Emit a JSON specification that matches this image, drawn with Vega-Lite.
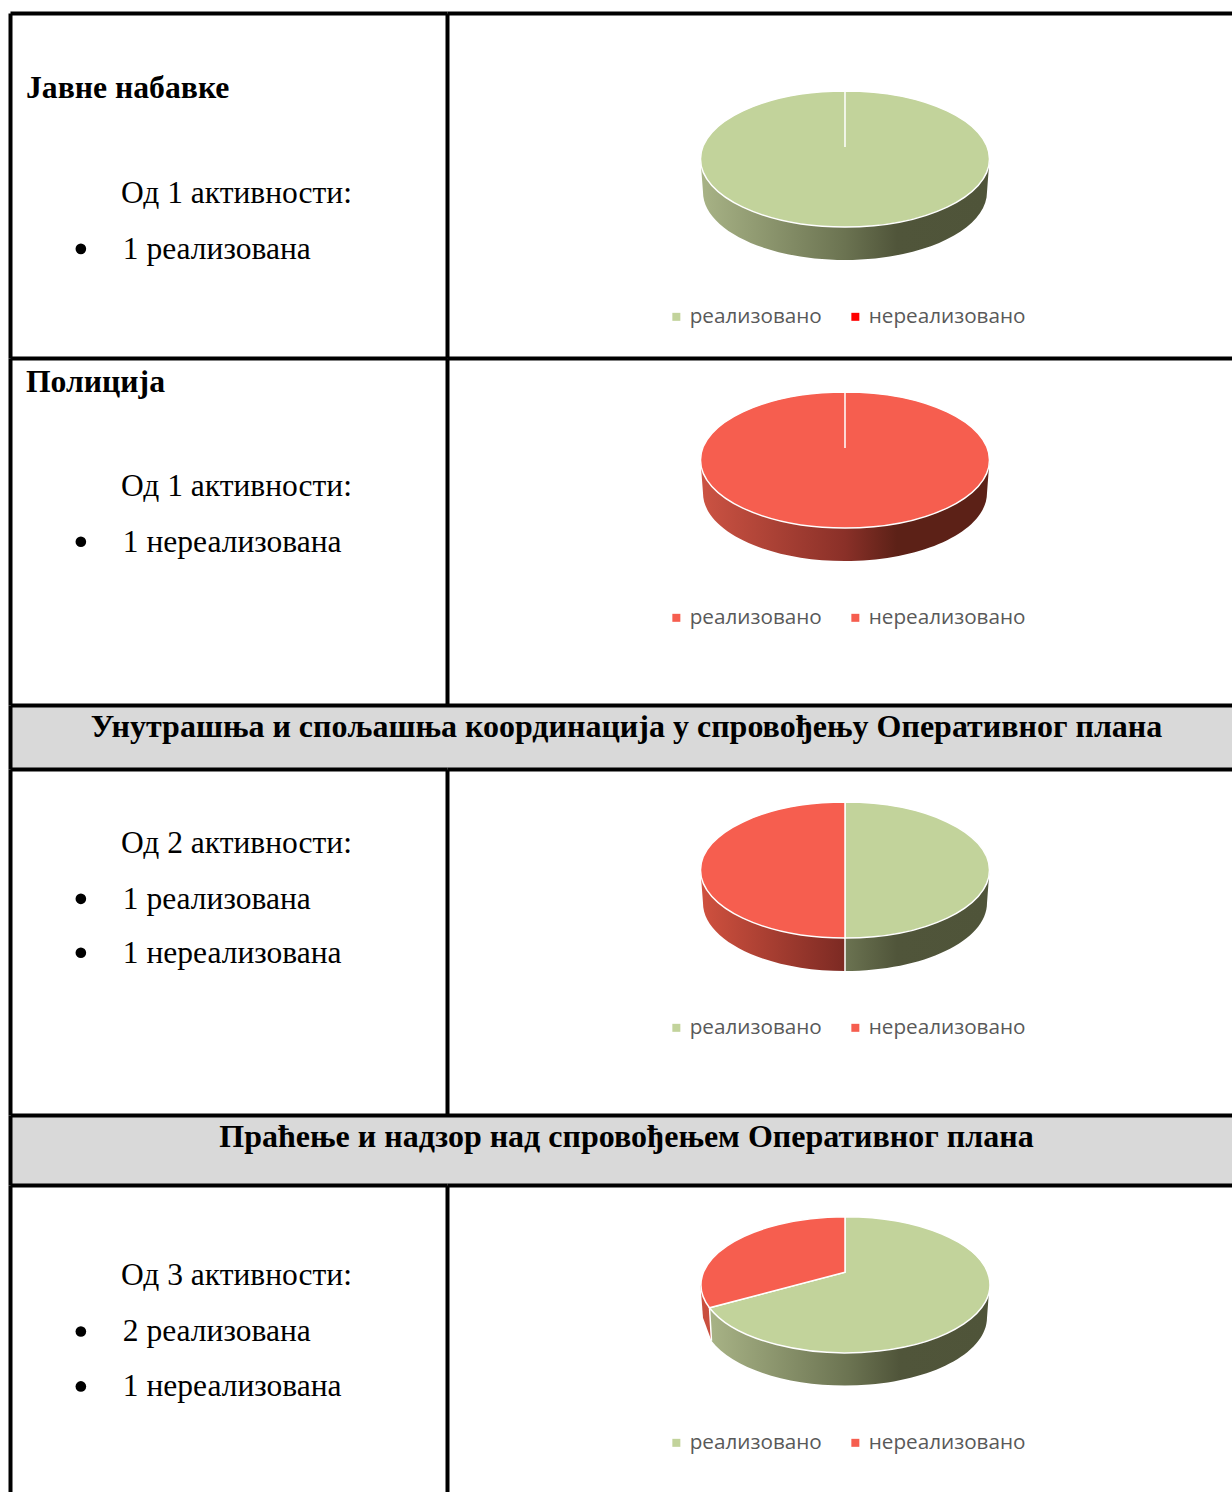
{"$schema":"https://vega.github.io/schema/vega-lite/v6.json","padding":{"left":10,"top":13,"right":0,"bottom":0},"background":"white","spacing":-2,"resolve":{"scale":{"color":"independent"},"legend":{"color":"independent"}},"config":{"view":{"stroke":null},"axis":{"domain":true,"domainColor":"black","domainWidth":4,"ticks":false,"labels":false,"grid":false,"title":null},"legend":{"title":null,"orient":"none","direction":"horizontal","symbolType":"square","symbolSize":64,"symbolStrokeWidth":0,"labelFont":"Open Sans","labelFontSize":20.7,"labelColor":"#595959","labelOffset":3,"columnPadding":23,"padding":0}},"datasets":{"lines":[{"panel":"p1","weight":"bold","bullet":false,"level":0,"line":1.53,"text":"Јавне набавке"},{"panel":"p1","weight":"normal","bullet":false,"level":1,"line":3.43,"text":"Од 1 активности:"},{"panel":"p1","weight":"normal","bullet":true,"level":1.02,"line":4.43,"text":"1 реализована"},{"panel":"p2","weight":"bold","bullet":false,"level":0,"line":0.61,"text":"Полиција"},{"panel":"p2","weight":"normal","bullet":false,"level":1,"line":2.49,"text":"Од 1 активности:"},{"panel":"p2","weight":"normal","bullet":true,"level":1.02,"line":3.49,"text":"1 нереализована"},{"panel":"p3","weight":"normal","bullet":false,"level":1,"line":1.52,"text":"Од 2 активности:"},{"panel":"p3","weight":"normal","bullet":true,"level":1.02,"line":2.52,"text":"1 реализована"},{"panel":"p3","weight":"normal","bullet":true,"level":1.02,"line":3.49,"text":"1 нереализована"},{"panel":"p4","weight":"normal","bullet":false,"level":1,"line":1.81,"text":"Од 3 активности:"},{"panel":"p4","weight":"normal","bullet":true,"level":1.02,"line":2.82,"text":"2 реализована"},{"panel":"p4","weight":"normal","bullet":true,"level":1.02,"line":3.81,"text":"1 нереализована"}],"slices":[{"panel":"p1","status":"реализовано","value":1},{"panel":"p1","status":"нереализовано","value":0},{"panel":"p2","status":"реализовано","value":0},{"panel":"p2","status":"нереализовано","value":1},{"panel":"p3","status":"реализовано","value":1},{"panel":"p3","status":"нереализовано","value":1},{"panel":"p4","status":"реализовано","value":2},{"panel":"p4","status":"нереализовано","value":1}]},"vconcat":[{"spacing":0,"bounds":"flush","resolve":{"scale":{"color":"independent"},"legend":{"color":"independent"}},"hconcat":[{"width":437,"height":345,"data":{"name":"lines"},"transform":[{"filter":"datum.panel=='p1'"}],"encoding":{"x":{"field":"level","type":"quantitative","title":null,"scale":{"domain":[-0.168,4.432],"nice":false,"zero":false},"axis":{"orient":"top"}},"y":{"field":"line","type":"quantitative","title":null,"scale":{"domain":[0,6.216],"reverse":true,"nice":false,"zero":false},"axis":{"orient":"left"}}},"layer":[{"transform":[{"filter":"datum.weight=='bold'"}],"mark":{"type":"text","align":"left","baseline":"alphabetic","font":"Liberation Serif","fontSize":31.7,"fontWeight":"bold","color":"black"},"encoding":{"text":{"field":"text"}}},{"transform":[{"filter":"datum.weight=='normal'"}],"mark":{"type":"text","align":"left","baseline":"alphabetic","font":"Liberation Serif","fontSize":31.5,"color":"black"},"encoding":{"text":{"field":"text"}}},{"transform":[{"filter":"datum.bullet"}],"mark":{"type":"point","filled":true,"opacity":1,"size":113,"color":"black","xOffset":-42,"yOffset":-10}}]},{"width":785,"height":345,"data":{"name":"slices"},"transform":[{"filter":"datum.panel=='p1'"}],"encoding":{"x":{"datum":0.507,"type":"quantitative","title":null,"scale":{"domain":[0,1],"nice":false},"axis":{"orient":"top"}},"y":{"datum":0.4232,"type":"quantitative","title":null,"scale":{"domain":[0,1],"reverse":true,"nice":false},"axis":{"orient":"left"}}},"layer":[{"transform":[{"filter":"datum.value<0"}],"mark":{"type":"square","filled":true,"opacity":1},"encoding":{"color":{"field":"status","type":"nominal","scale":{"domain":["реализовано","нереализовано"],"range":["#c2d39b","#ff0000"]},"legend":{"legendX":219,"legendY":293}}}},{"transform":[{"filter":"datum.status=='реализовано'"}],"mark":{"type":"point","filled":true,"opacity":1,"size":4,"shape":"M-144.5,0 L-142,33 A142,68 0 0 0 142,33 L144.5,0 Z","fill":{"gradient":"linear","x1":0,"y1":0,"x2":1,"y2":0,"stops":[{"offset":0,"color":"#a8b386"},{"offset":0.5,"color":"#6b7351"},{"offset":0.68,"color":"#50553a"},{"offset":1,"color":"#4f5439"}]}}},{"transform":[{"filter":"datum.status=='реализовано'"}],"mark":{"type":"point","filled":true,"opacity":1,"size":4,"stroke":"white","strokeWidth":1.5,"fill":"#c2d39b","shape":"M-144.5,0 A144.5,68 0 1 1 144.5,0 A144.5,68 0 1 1 -144.5,0 Z M0,-68 L0,-12"}}]}]},{"spacing":0,"bounds":"flush","resolve":{"scale":{"color":"independent"},"legend":{"color":"independent"}},"hconcat":[{"width":437,"height":347,"data":{"name":"lines"},"transform":[{"filter":"datum.panel=='p2'"}],"encoding":{"x":{"field":"level","type":"quantitative","title":null,"scale":{"domain":[-0.168,4.432],"nice":false,"zero":false},"axis":{"orient":"top"}},"y":{"field":"line","type":"quantitative","title":null,"scale":{"domain":[0,6.252],"reverse":true,"nice":false,"zero":false},"axis":{"orient":"left"}}},"layer":[{"transform":[{"filter":"datum.weight=='bold'"}],"mark":{"type":"text","align":"left","baseline":"alphabetic","font":"Liberation Serif","fontSize":31.7,"fontWeight":"bold","color":"black"},"encoding":{"text":{"field":"text"}}},{"transform":[{"filter":"datum.weight=='normal'"}],"mark":{"type":"text","align":"left","baseline":"alphabetic","font":"Liberation Serif","fontSize":31.5,"color":"black"},"encoding":{"text":{"field":"text"}}},{"transform":[{"filter":"datum.bullet"}],"mark":{"type":"point","filled":true,"opacity":1,"size":113,"color":"black","xOffset":-42,"yOffset":-10}}]},{"width":785,"height":347,"data":{"name":"slices"},"transform":[{"filter":"datum.panel=='p2'"}],"encoding":{"x":{"datum":0.507,"type":"quantitative","title":null,"scale":{"domain":[0,1],"nice":false},"axis":{"orient":"top"}},"y":{"datum":0.294,"type":"quantitative","title":null,"scale":{"domain":[0,1],"reverse":true,"nice":false},"axis":{"orient":"left"}}},"layer":[{"transform":[{"filter":"datum.value<0"}],"mark":{"type":"square","filled":true,"opacity":1},"encoding":{"color":{"field":"status","type":"nominal","scale":{"domain":["реализовано","нереализовано"],"range":["#f65e4f","#f65e4f"]},"legend":{"legendX":219,"legendY":249}}}},{"transform":[{"filter":"datum.status=='нереализовано'"}],"mark":{"type":"point","filled":true,"opacity":1,"size":4,"shape":"M-144.5,0 L-142,33 A142,68 0 0 0 142,33 L144.5,0 Z","fill":{"gradient":"linear","x1":0,"y1":0,"x2":1,"y2":0,"stops":[{"offset":0,"color":"#cc5343"},{"offset":0.5,"color":"#8a3028"},{"offset":0.68,"color":"#5c2117"},{"offset":1,"color":"#5c2117"}]}}},{"transform":[{"filter":"datum.status=='нереализовано'"}],"mark":{"type":"point","filled":true,"opacity":1,"size":4,"stroke":"white","strokeWidth":1.5,"fill":"#f65e4f","shape":"M-144.5,0 A144.5,68 0 1 1 144.5,0 A144.5,68 0 1 1 -144.5,0 Z M0,-68 L0,-12"}}]}]},{"width":1222,"height":64,"view":{"fill":"#d9d9d9"},"data":{"values":[{"text":"Унутрашња и спољашња координација у спровођењу Оперативног плана"}]},"mark":{"type":"text","align":"center","baseline":"alphabetic","font":"Liberation Serif","fontSize":32,"fontWeight":"bold","color":"black"},"encoding":{"x":{"datum":0.5045,"type":"quantitative","title":null,"scale":{"domain":[0,1],"nice":false},"axis":{"orient":"top"}},"y":{"datum":0.5,"type":"quantitative","title":null,"scale":{"domain":[0,1],"reverse":true,"nice":false},"axis":{"orient":"left"}},"text":{"field":"text"}}},{"spacing":0,"bounds":"flush","resolve":{"scale":{"color":"independent"},"legend":{"color":"independent"}},"hconcat":[{"width":437,"height":346,"data":{"name":"lines"},"transform":[{"filter":"datum.panel=='p3'"}],"encoding":{"x":{"field":"level","type":"quantitative","title":null,"scale":{"domain":[-0.168,4.432],"nice":false,"zero":false},"axis":{"orient":"top"}},"y":{"field":"line","type":"quantitative","title":null,"scale":{"domain":[0,6.234],"reverse":true,"nice":false,"zero":false},"axis":{"orient":"left"}}},"layer":[{"transform":[{"filter":"datum.weight=='normal'"}],"mark":{"type":"text","align":"left","baseline":"alphabetic","font":"Liberation Serif","fontSize":31.5,"color":"black"},"encoding":{"text":{"field":"text"}}},{"transform":[{"filter":"datum.bullet"}],"mark":{"type":"point","filled":true,"opacity":1,"size":113,"color":"black","xOffset":-42,"yOffset":-10}}]},{"width":785,"height":346,"data":{"name":"slices"},"transform":[{"filter":"datum.panel=='p3'"}],"encoding":{"x":{"datum":0.507,"type":"quantitative","title":null,"scale":{"domain":[0,1],"nice":false},"axis":{"orient":"top"}},"y":{"datum":0.292,"type":"quantitative","title":null,"scale":{"domain":[0,1],"reverse":true,"nice":false},"axis":{"orient":"left"}}},"layer":[{"transform":[{"filter":"datum.value<0"}],"mark":{"type":"square","filled":true,"opacity":1},"encoding":{"color":{"field":"status","type":"nominal","scale":{"domain":["реализовано","нереализовано"],"range":["#c2d39b","#f65e4f"]},"legend":{"legendX":219,"legendY":248}}}},{"transform":[{"filter":"datum.status=='реализовано'"}],"mark":{"type":"point","filled":true,"opacity":1,"size":4,"shape":"M0,60 L0,101 A142,68 0 0 0 142,33 L144.5,0 Z","fill":{"gradient":"linear","x1":0,"y1":0,"x2":1,"y2":0,"stops":[{"offset":0,"color":"#6b7351"},{"offset":0.36,"color":"#50553a"},{"offset":1,"color":"#4f5439"}]}}},{"transform":[{"filter":"datum.status=='нереализовано'"}],"mark":{"type":"point","filled":true,"opacity":1,"size":4,"shape":"M-144.5,0 L-142,33 A142,68 0 0 0 0,101 L0,60 Z","fill":{"gradient":"linear","x1":0,"y1":0,"x2":1,"y2":0,"stops":[{"offset":0,"color":"#d0513f"},{"offset":1,"color":"#7c2a23"}]}}},{"transform":[{"filter":"datum.status=='реализовано'"}],"mark":{"type":"point","filled":true,"opacity":1,"size":4,"stroke":"white","strokeWidth":1.5,"fill":"#c2d39b","shape":"M0,68 A144.5,68 0 0 0 0,-68 Z"}},{"transform":[{"filter":"datum.status=='нереализовано'"}],"mark":{"type":"point","filled":true,"opacity":1,"size":4,"stroke":"white","strokeWidth":1.5,"fill":"#f65e4f","shape":"M0,-68 A144.5,68 0 0 0 0,68 Z M0,68 L0,101"}}]}]},{"width":1222,"height":70,"view":{"fill":"#d9d9d9"},"data":{"values":[{"text":"Праћење и надзор над спровођењем Оперативног плана"}]},"mark":{"type":"text","align":"center","baseline":"alphabetic","font":"Liberation Serif","fontSize":32,"fontWeight":"bold","color":"black"},"encoding":{"x":{"datum":0.5045,"type":"quantitative","title":null,"scale":{"domain":[0,1],"nice":false},"axis":{"orient":"top"}},"y":{"datum":0.457,"type":"quantitative","title":null,"scale":{"domain":[0,1],"reverse":true,"nice":false},"axis":{"orient":"left"}},"text":{"field":"text"}}},{"spacing":0,"bounds":"flush","resolve":{"scale":{"color":"independent"},"legend":{"color":"independent"}},"hconcat":[{"width":437,"height":307,"data":{"name":"lines"},"transform":[{"filter":"datum.panel=='p4'"}],"encoding":{"x":{"field":"level","type":"quantitative","title":null,"scale":{"domain":[-0.168,4.432],"nice":false,"zero":false},"axis":{"orient":"top"}},"y":{"field":"line","type":"quantitative","title":null,"scale":{"domain":[0,5.532],"reverse":true,"nice":false,"zero":false},"axis":{"orient":"left"}}},"layer":[{"transform":[{"filter":"datum.weight=='normal'"}],"mark":{"type":"text","align":"left","baseline":"alphabetic","font":"Liberation Serif","fontSize":31.5,"color":"black"},"encoding":{"text":{"field":"text"}}},{"transform":[{"filter":"datum.bullet"}],"mark":{"type":"point","filled":true,"opacity":1,"size":113,"color":"black","xOffset":-42,"yOffset":-10}}]},{"width":785,"height":307,"data":{"name":"slices"},"transform":[{"filter":"datum.panel=='p4'"}],"encoding":{"x":{"datum":0.507,"type":"quantitative","title":null,"scale":{"domain":[0,1],"nice":false},"axis":{"orient":"top"}},"y":{"datum":0.325,"type":"quantitative","title":null,"scale":{"domain":[0,1],"reverse":true,"nice":false},"axis":{"orient":"left"}}},"layer":[{"transform":[{"filter":"datum.value<0"}],"mark":{"type":"square","filled":true,"opacity":1},"encoding":{"color":{"field":"status","type":"nominal","scale":{"domain":["реализовано","нереализовано"],"range":["#c2d39b","#f65e4f"]},"legend":{"legendX":219,"legendY":247}}}},{"transform":[{"filter":"datum.status=='реализовано'"}],"mark":{"type":"point","filled":true,"opacity":1,"size":4,"shape":"M-135.5,23 L-133.5,56 A142,68 0 0 0 142,33 L144.5,0 Z","fill":{"gradient":"linear","x1":0,"y1":0,"x2":1,"y2":0,"stops":[{"offset":0,"color":"#a8b386"},{"offset":0.5,"color":"#6b7351"},{"offset":0.68,"color":"#50553a"},{"offset":1,"color":"#4f5439"}]}}},{"transform":[{"filter":"datum.status=='нереализовано'"}],"mark":{"type":"point","filled":true,"opacity":1,"size":4,"shape":"M-144.5,0 L-142,33 L-133.5,56 L-135.5,23 Z","fill":"#c94f3f"}},{"transform":[{"filter":"datum.status=='реализовано'"}],"mark":{"type":"point","filled":true,"opacity":1,"size":4,"stroke":"white","strokeWidth":1.5,"fill":"#c2d39b","shape":"M0,-12.5 L-135.5,23 A144.5,68 0 1 0 0,-68 Z M-135.5,23 L-133.5,56"}},{"transform":[{"filter":"datum.status=='нереализовано'"}],"mark":{"type":"point","filled":true,"opacity":1,"size":4,"stroke":"white","strokeWidth":1.5,"fill":"#f65e4f","shape":"M0,-12.5 L0,-68 A144.5,68 0 0 0 -135.5,23 Z"}}]}]}]}
